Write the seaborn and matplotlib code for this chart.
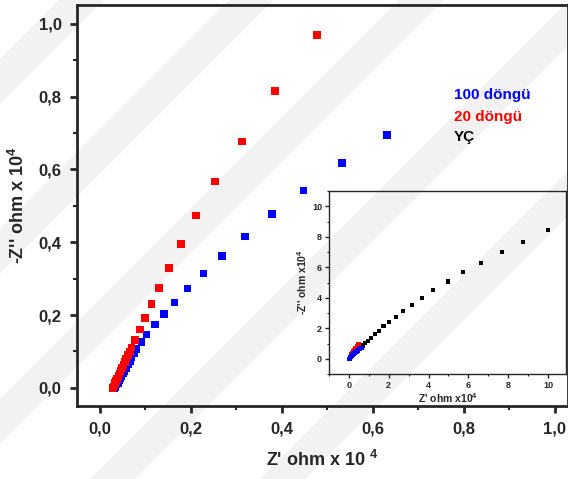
import numpy as np
import pandas as pd
import matplotlib.pyplot as plt
import seaborn as sns
from matplotlib.ticker import MultipleLocator, FuncFormatter
from matplotlib.patches import Polygon

# ===== DATA (Z' and -Z'' in ohm x 10^4) =====
zre_100 = [0.631, 0.533, 0.448, 0.378, 0.319, 0.269, 0.228, 0.193, 0.164, 0.141,
           0.121, 0.103, 0.092, 0.081, 0.075, 0.070, 0.066, 0.062, 0.058, 0.054,
           0.051, 0.048, 0.045, 0.042, 0.040, 0.037, 0.035, 0.033, 0.032]
zim_100 = [0.695, 0.617, 0.542, 0.478, 0.416, 0.363, 0.314, 0.273, 0.234, 0.203,
           0.174, 0.147, 0.126, 0.106, 0.094, 0.083, 0.073, 0.064, 0.055, 0.047,
           0.040, 0.033, 0.026, 0.020, 0.014, 0.009, 0.005, 0.002, 0.000]

zre_20 = [0.478, 0.385, 0.312, 0.253, 0.211, 0.178, 0.152, 0.130, 0.114, 0.099,
          0.088, 0.078, 0.070, 0.066, 0.062, 0.058, 0.055, 0.052, 0.049, 0.046,
          0.043, 0.041, 0.038, 0.036, 0.034, 0.032, 0.030, 0.029, 0.028]
zim_20 = [0.969, 0.815, 0.677, 0.567, 0.473, 0.396, 0.330, 0.275, 0.230, 0.192,
          0.160, 0.132, 0.111, 0.100, 0.090, 0.080, 0.071, 0.062, 0.054, 0.046,
          0.039, 0.032, 0.025, 0.019, 0.013, 0.008, 0.004, 0.001, 0.000]

zre_yc = [9.98, 8.74, 7.67, 6.63, 5.74, 4.96, 4.24, 3.65, 3.15, 2.73, 2.36, 2.01,
          1.74, 1.51, 1.29, 1.11, 0.94, 0.80, 0.68, 0.58, 0.50, 0.40, 0.30, 0.20,
          0.10, 0.05, 0.02]
zim_yc = [8.46, 7.63, 6.99, 6.29, 5.68, 5.07, 4.50, 3.97, 3.51, 3.11, 2.72, 2.39,
          2.13, 1.84, 1.60, 1.38, 1.18, 1.01, 0.87, 0.74, 0.63, 0.50, 0.38, 0.25,
          0.12, 0.05, 0.01]

labels = ["100 döngü", "20 döngü", "YÇ"]
colors = ["#0000ff", "#ff0000", "#000000"]

df_100 = pd.DataFrame({"x": zre_100, "y": zim_100})
df_20 = pd.DataFrame({"x": zre_20, "y": zim_20})
df_yc = pd.DataFrame({"x": zre_yc, "y": zim_yc})

# ===== STYLE =====
sns.set_style("ticks")
plt.rcParams['font.family'] = ['Liberation Sans', 'DejaVu Sans']
plt.rcParams['mathtext.fontset'] = 'custom'
plt.rcParams['mathtext.bf'] = 'Liberation Sans:bold'
plt.rcParams['mathtext.rm'] = 'Liberation Sans:bold'

fig = plt.figure(figsize=(5.68, 4.79), dpi=100)

# ===== FAINT WATERMARK STRIPES =====
for off in [-420, -250, -80, 90, 260]:
    pts = np.array([[off, 0], [off + 45, 0], [off + 45 + 479, 479], [off + 479, 479]], float)
    pts[:, 0] /= 568
    pts[:, 1] /= 479
    fig.add_artist(Polygon(pts, closed=True, transform=fig.transFigure,
                           facecolor="#f2f2f2", edgecolor="none", zorder=-5))

comma = FuncFormatter(lambda v, p: f"{v:.1f}".replace(".", ","))

# ===== MAIN AXES =====
ax = fig.add_axes([77 / 568, 73 / 479, 491 / 568, 401 / 479])
ax.set_facecolor("none")
sns.scatterplot(data=df_100, x="x", y="y", ax=ax, marker="s", s=30, color=colors[0],
                edgecolor="none", zorder=3)
sns.scatterplot(data=df_20, x="x", y="y", ax=ax, marker="s", s=30, color=colors[1],
                edgecolor="none", zorder=4)
ax.set_xlim(-0.05, 1.029)
ax.set_ylim(-0.05, 1.052)
ax.xaxis.set_major_locator(MultipleLocator(0.2))
ax.xaxis.set_minor_locator(MultipleLocator(0.1))
ax.yaxis.set_major_locator(MultipleLocator(0.2))
ax.yaxis.set_minor_locator(MultipleLocator(0.1))
ax.xaxis.set_major_formatter(comma)
ax.yaxis.set_major_formatter(comma)
ax.tick_params(which="major", direction="out", length=5, width=2, labelsize=12, pad=6)
ax.tick_params(which="minor", direction="out", length=3, width=1.5)
for lab in ax.get_xticklabels() + ax.get_yticklabels():
    lab.set_fontweight("bold")
for sp in ax.spines.values():
    sp.set_linewidth(2)
    sp.set_visible(True)
ax.set_xlabel("Z' ohm x 10 $^{4}$", fontsize=13, fontweight="bold", labelpad=10)
ax.set_ylabel("-Z'' ohm x 10$^{4}$", fontsize=13, fontweight="bold", labelpad=8)

for lab, c, yy in zip(labels, colors, [0.776, 0.721, 0.671]):
    ax.text(0.768, yy, lab, color=c, fontsize=11, fontweight="bold",
            transform=ax.transAxes, va="center", ha="left")

# ===== INSET =====
ins = fig.add_axes([329 / 568, 105 / 479, 237 / 568, 183 / 479])
ins.set_facecolor("none")
sns.scatterplot(data=df_yc, x="x", y="y", ax=ins, marker="s", s=9, color=colors[2],
                edgecolor="none", zorder=3)
sns.scatterplot(data=df_20, x="x", y="y", ax=ins, marker="s", s=9, color=colors[1],
                edgecolor="none", zorder=4)
sns.scatterplot(data=df_100, x="x", y="y", ax=ins, marker="s", s=9, color=colors[0],
                edgecolor="none", zorder=5)
ins.set_xlim(-1, 10.9)
ins.set_ylim(-1, 11)
ins.xaxis.set_major_locator(MultipleLocator(2))
ins.xaxis.set_minor_locator(MultipleLocator(1))
ins.yaxis.set_major_locator(MultipleLocator(2))
ins.yaxis.set_minor_locator(MultipleLocator(1))
ins.tick_params(which="major", direction="out", length=3, width=1, labelsize=6.5, pad=2)
ins.tick_params(which="minor", direction="out", length=1.5, width=0.8)
for lab in ins.get_xticklabels() + ins.get_yticklabels():
    lab.set_fontweight("bold")
for sp in ins.spines.values():
    sp.set_linewidth(1)
    sp.set_visible(True)
ins.set_xlabel("Z' ohm x10$^{4}$", fontsize=7.5, fontweight="bold", labelpad=1)
ins.set_ylabel("-Z'' ohm x10$^{4}$", fontsize=7.5, fontweight="bold", labelpad=2)

fig.savefig("out.png", dpi=100)
